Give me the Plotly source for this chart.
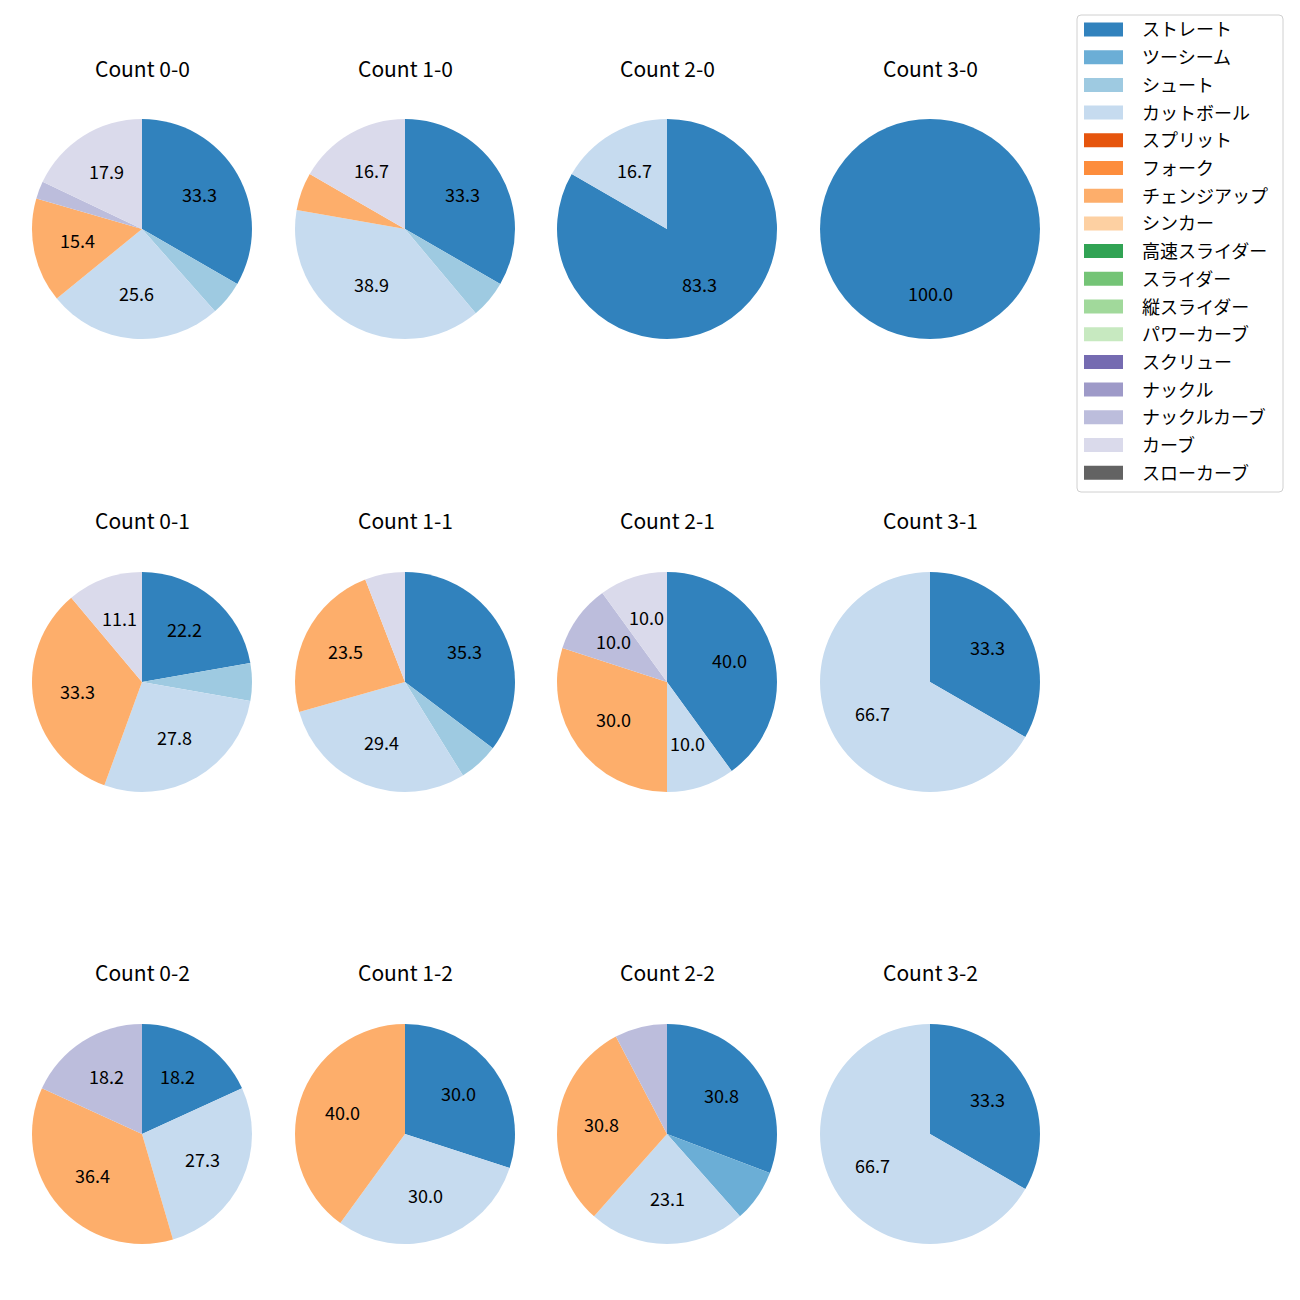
import math
import plotly.graph_objects as go

pitch_types = ["ストレート", "ツーシーム", "シュート", "カットボール", "スプリット", "フォーク",
               "チェンジアップ", "シンカー", "高速スライダー", "スライダー", "縦スライダー",
               "パワーカーブ", "スクリュー", "ナックル", "ナックルカーブ", "カーブ", "スローカーブ"]
colors = ["#3182bd", "#6baed6", "#9ecae1", "#c6dbef", "#e6550d", "#fd8d3c",
          "#fdae6b", "#fdd0a2", "#31a354", "#74c476", "#a1d99b",
          "#c7e9c0", "#756bb1", "#9e9ac8", "#bcbddc", "#dadaeb", "#636363"]

# pitch counts per ball-strike situation
counts = ["0-0", "1-0", "2-0", "3-0",
          "0-1", "1-1", "2-1", "3-1",
          "0-2", "1-2", "2-2", "3-2"]
c_0_0 = {"ストレート": 13, "シュート": 2, "カットボール": 10, "チェンジアップ": 6, "ナックルカーブ": 1, "カーブ": 7}
c_1_0 = {"ストレート": 6, "シュート": 1, "カットボール": 7, "チェンジアップ": 1, "カーブ": 3}
c_2_0 = {"ストレート": 5, "カットボール": 1}
c_3_0 = {"ストレート": 1}
c_0_1 = {"ストレート": 4, "シュート": 1, "カットボール": 5, "チェンジアップ": 6, "カーブ": 2}
c_1_1 = {"ストレート": 6, "シュート": 1, "カットボール": 5, "チェンジアップ": 4, "カーブ": 1}
c_2_1 = {"ストレート": 4, "カットボール": 1, "チェンジアップ": 3, "ナックルカーブ": 1, "カーブ": 1}
c_3_1 = {"ストレート": 1, "カットボール": 2}
c_0_2 = {"ストレート": 2, "カットボール": 3, "チェンジアップ": 4, "ナックルカーブ": 2}
c_1_2 = {"ストレート": 3, "カットボール": 3, "チェンジアップ": 4}
c_2_2 = {"ストレート": 4, "ツーシーム": 1, "カットボール": 3, "チェンジアップ": 4, "ナックルカーブ": 1}
c_3_2 = {"ストレート": 1, "カットボール": 2}
data = [c_0_0, c_1_0, c_2_0, c_3_0, c_0_1, c_1_1, c_2_1, c_3_1, c_0_2, c_1_2, c_2_2, c_3_2]

# page has an 8px body margin; figure sized to fit inside the 1300px window
OFF = 8
W = H = 1284
col_x = [142, 405, 667, 930]
row_y = [229, 682, 1134]
title_y = [68, 520, 972]
R = 110
FONT = "Noto Sans CJK JP"

def px(x):
    return (x - OFF) / W

def py(y):
    return 1 - (y - OFF) / H

fig = go.Figure()
annotations = []
shapes = []

for i, (name, d) in enumerate(zip(counts, data)):
    r, c = divmod(i, 4)
    cx, cy = col_x[c], row_y[r]
    labels = [p for p in pitch_types if d.get(p, 0) > 0]
    vals = [d[p] for p in labels]
    cols = [colors[pitch_types.index(p)] for p in labels]
    fig.add_trace(go.Pie(
        labels=labels, values=vals, marker=dict(colors=cols, line=dict(width=0)),
        sort=False, direction="clockwise", rotation=0,
        textinfo="none", hoverinfo="label+percent", showlegend=False,
        domain=dict(x=[px(cx - R), px(cx + R)], y=[py(cy + R), py(cy - R)]),
    ))
    total = sum(vals)
    cum = 0
    for v in vals:
        pct = 100 * v / total
        mid = math.radians(90 - 360 * (cum + v / 2) / total)
        cum += v
        if pct < 9:
            continue
        annotations.append(dict(
            x=px(cx + 0.6 * R * math.cos(mid)), y=py(cy - 0.6 * R * math.sin(mid) - 2),
            xref="paper", yref="paper", text=f"{pct:.1f}", showarrow=False,
            font=dict(family=FONT, size=18, color="black"), xanchor="center", yanchor="middle"))
    annotations.append(dict(
        x=px(cx), y=py(title_y[r]), xref="paper", yref="paper", text=f"Count {name}",
        showarrow=False, font=dict(family=FONT, size=21, color="black"),
        xanchor="center", yanchor="middle"))

# legend (drawn manually to mimic the reference style)
lx0, ly0, lx1, ly1 = 1077, 15, 1283, 492
rr = 4
path = (f"M {px(lx0+rr)},{py(ly0)} L {px(lx1-rr)},{py(ly0)} Q {px(lx1)},{py(ly0)} {px(lx1)},{py(ly0+rr)} "
        f"L {px(lx1)},{py(ly1-rr)} Q {px(lx1)},{py(ly1)} {px(lx1-rr)},{py(ly1)} "
        f"L {px(lx0+rr)},{py(ly1)} Q {px(lx0)},{py(ly1)} {px(lx0)},{py(ly1-rr)} "
        f"L {px(lx0)},{py(ly0+rr)} Q {px(lx0)},{py(ly0)} {px(lx0+rr)},{py(ly0)} Z")
shapes.append(dict(type="path", path=path, xref="paper", yref="paper",
                   line=dict(color="#d0d0d0", width=1), fillcolor="rgba(255,255,255,0.8)"))
for k, (p, col) in enumerate(zip(pitch_types, colors)):
    yc = 29.5 + k * 27.7
    shapes.append(dict(type="rect", xref="paper", yref="paper",
                       x0=px(1084), x1=px(1123), y0=py(yc - 7), y1=py(yc + 7),
                       fillcolor=col, line=dict(width=0)))
    annotations.append(dict(x=px(1140), y=py(yc - 1), xref="paper", yref="paper", text=p,
                            showarrow=False, xanchor="left", yanchor="middle",
                            font=dict(family=FONT, size=18, color="black")))

fig.update_layout(
    width=W, height=H, margin=dict(l=0, r=0, t=0, b=0),
    paper_bgcolor="white", plot_bgcolor="white",
    annotations=annotations, shapes=shapes, showlegend=False,
    font=dict(family=FONT),
)
fig.write_html("out.html")
